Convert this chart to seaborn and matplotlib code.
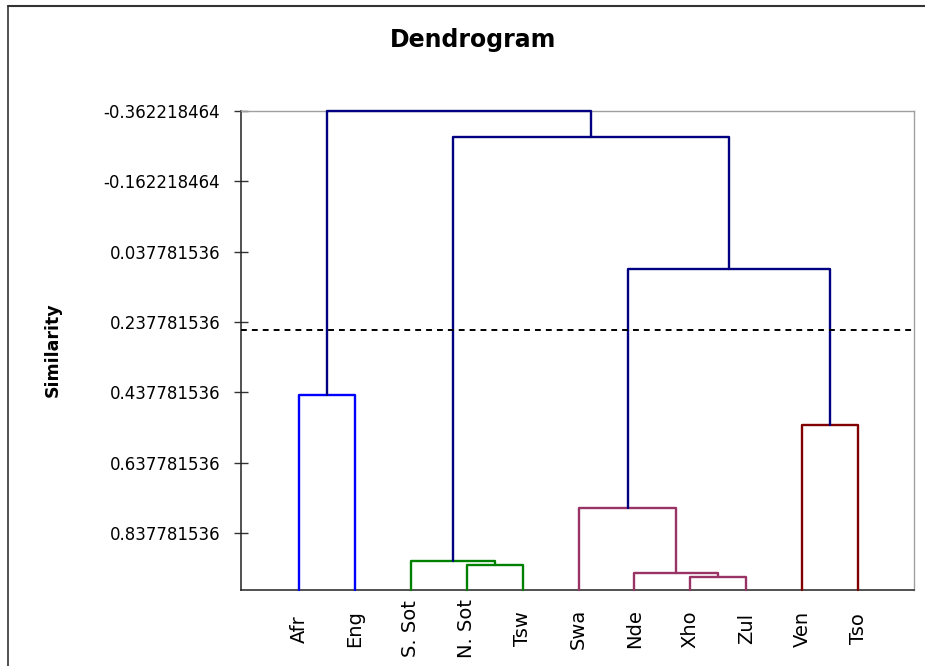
import pandas as pd
import matplotlib
matplotlib.use("Agg")
import matplotlib.pyplot as plt
import seaborn as sns
from matplotlib.lines import Line2D

# leaves in plotting order
leaves = ["Afr", "Eng", "S. Sot", "N. Sot", "Tsw", "Swa", "Nde", "Xho", "Zul", "Ven", "Tso"]
leaf_level = 1.0

# linkage, scipy style: leaves are 0-10, merge k creates node 11+k
merge_left = [7, 6, 3, 2, 5, 9, 0, 15, 14, 17]
merge_right = [8, 11, 4, 13, 12, 10, 1, 16, 18, 19]
merge_level = [0.964, 0.953, 0.930, 0.918, 0.767, 0.531, 0.445, 0.086, -0.289, -0.362218464]
merge_group = ["Nguni", "Nguni", "Sotho", "Sotho", "Nguni", "VenTso", "Germanic", "top", "top", "top"]

cut_level = 0.26

ytick_labels = ["-0.362218464", "-0.162218464", "0.037781536", "0.237781536",
                "0.437781536", "0.637781536", "0.837781536"]

palette = {"Germanic": "#0000FF", "Sotho": "#008000", "Nguni": "#993366",
           "VenTso": "#800000", "top": "#000080"}

# build the U-shaped links
xpos = {i: i + 1 for i in range(len(leaves))}
ypos = {i: leaf_level for i in range(len(leaves))}
rows = []
for k, (a, b, h, g) in enumerate(zip(merge_left, merge_right, merge_level, merge_group)):
    pts = [(xpos[a], ypos[a]), (xpos[a], h), (xpos[b], h), (xpos[b], ypos[b])]
    for j, (x, y) in enumerate(pts):
        rows.append({"seg": k, "order": j, "x": x, "y": y, "group": g})
    node = len(leaves) + k
    xpos[node] = (xpos[a] + xpos[b]) / 2
    ypos[node] = h
df = pd.DataFrame(rows)

sns.set_style("white")
plt.rcParams["font.family"] = ["DejaVu Sans"]
for key in ["text.color", "axes.labelcolor", "xtick.color", "ytick.color"]:
    plt.rcParams[key] = "black"

fig = plt.figure(figsize=(9.25, 6.66), dpi=100)
ax = fig.add_axes([0.2605, 0.1141, 0.7276, 0.7192])

sns.lineplot(data=df, x="x", y="y", hue="group", units="seg", estimator=None,
             sort=False, palette=palette, lw=1.7, legend=False, ax=ax)
for ln in ax.lines:
    ln.set_clip_on(False)
    ln.set_zorder(4)

ax.axhline(cut_level, color="black", lw=1.4, ls=(0, (3, 2.6)), zorder=5)

ax.set_xlim(-0.04, 12.0)
ax.set_ylim(leaf_level, -0.362218464)

ax.set_xticks(range(1, len(leaves) + 1))
ax.set_xticklabels(leaves, rotation=90, va="center", fontsize=14)
ax.tick_params(axis="x", length=0, pad=28)

ax.set_yticks([float(s) for s in ytick_labels])
ax.set_yticklabels(ytick_labels)
ax.tick_params(axis="y", direction="inout", length=10, width=1, pad=10,
               labelsize=12, left=True, color="#333333")
ax.set_xlabel("")
ax.set_ylabel("")

for side in ["left", "bottom"]:
    ax.spines[side].set_color("#222222")
    ax.spines[side].set_linewidth(1.1)
for side in ["top", "right"]:
    ax.spines[side].set_visible(True)
    ax.spines[side].set_color("#a0a0a0")
    ax.spines[side].set_linewidth(1.0)

fig.text(473 / 925, 1 - 40 / 666, "Dendrogram", ha="center", va="center",
         fontsize=17, fontweight="bold")
fig.text(53 / 925, 1 - 350 / 666, "Similarity", rotation=90, ha="center",
         va="center", fontsize=12.5, fontweight="bold")

# chart-area frame (cropped at right and bottom)
fx, fy = 7.5 / 925, 1 - 5.5 / 666
fig.add_artist(Line2D([fx, 1], [fy, fy], transform=fig.transFigure, color="#333333", lw=1.5))
fig.add_artist(Line2D([fx, fx], [0, fy], transform=fig.transFigure, color="#333333", lw=1.2))

fig.savefig("out.png", dpi=100)
